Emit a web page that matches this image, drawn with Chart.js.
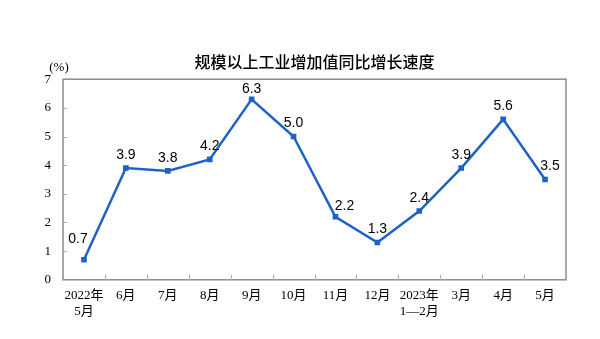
<!DOCTYPE html>
<html>
<head>
<meta charset="utf-8">
<script src="https://cdn.jsdelivr.net/npm/chart.js@4"></script>
<style>
  html, body { margin: 0; padding: 0; background: #fff; }
  #wrap { width: 600px; height: 339px; }
</style>
</head>
<body>
<div id="wrap"><canvas id="c"></canvas></div>
<script>
// 月份标签（两行的用数组）
const months = [
  ['2022年', '5月'], '6月', '7月', '8月', '9月', '10月',
  '11月', '12月', ['2023年', '1—2月'], '3月', '4月', '5月'
];
// 同比增长速度（%）
const growth = [0.7, 3.9, 3.8, 4.2, 6.3, 5.0, 2.2, 1.3, 2.4, 3.9, 5.6, 3.5];
const yTicks = [0, 1, 2, 3, 4, 5, 6, 7];

const lineColor = '#1f62c6';
const frameColor = '#8c8c8c';

// 画边框和朝内的刻度线
const frameTicks = {
  id: 'frameTicks',
  afterDraw(chart) {
    const { ctx, chartArea: a, scales } = chart;
    ctx.save();
    ctx.strokeStyle = frameColor;
    ctx.lineWidth = 1.5;
    ctx.strokeRect(a.left, a.top, a.right - a.left, a.bottom - a.top);
    ctx.lineWidth = 1;
    ctx.strokeStyle = '#b0b0b0';
    ctx.beginPath();
    for (let i = 1; i < months.length; i++) {
      const x = Math.round(scales.x.getPixelForValue(i - 0.5)) + 0.5;
      ctx.moveTo(x, a.bottom);
      ctx.lineTo(x, a.bottom - 5);
    }
    yTicks.forEach(v => {
      if (v === 0 || v === 7) return;
      const y = Math.round(scales.y.getPixelForValue(v)) + 0.5;
      ctx.moveTo(a.left, y);
      ctx.lineTo(a.left + 4, y);
    });
    ctx.stroke();
    // 单位
    ctx.fillStyle = '#000';
    ctx.font = '13px "Liberation Serif", serif';
    ctx.textAlign = 'center';
    ctx.textBaseline = 'middle';
    ctx.fillText('(%)', a.left - 4, a.top - 12);
    ctx.restore();
  }
};

// 数据标签，个别标签稍微错开，避免压线
const labelShift = { 0: [-6, -8], 4: [0, 3], 6: [9, 2], 11: [5, 0] };
const valueLabels = {
  id: 'valueLabels',
  afterDatasetsDraw(chart) {
    const { ctx } = chart;
    const meta = chart.getDatasetMeta(0);
    ctx.save();
    ctx.fillStyle = '#000';
    ctx.font = '14px "Liberation Sans", Arial, sans-serif';
    ctx.textAlign = 'center';
    ctx.textBaseline = 'bottom';
    meta.data.forEach((pt, i) => {
      const [dx, dy] = labelShift[i] || [0, 0];
      ctx.fillText(growth[i].toFixed(1), pt.x + dx, pt.y - 6 + dy);
    });
    ctx.restore();
  }
};

new Chart(document.getElementById('c'), {
  type: 'line',
  data: {
    labels: months,
    datasets: [{
      data: growth,
      borderColor: lineColor,
      backgroundColor: lineColor,
      borderWidth: 2.5,
      tension: 0,
      pointStyle: 'rect',
      pointRadius: 4,
      pointBorderWidth: 0,
      pointBackgroundColor: lineColor
    }]
  },
  options: {
    responsive: true,
    maintainAspectRatio: false,
    animation: false,
    layout: { padding: { left: 30, right: 34, top: 0, bottom: 20 } },
    scales: {
      x: {
        offset: true,
        grid: { display: false },
        border: { display: false },
        ticks: {
          color: '#000',
          font: { family: '"Liberation Serif", "Noto Sans CJK SC", serif', size: 13 },
          maxRotation: 0,
          autoSkip: false,
          padding: 0
        }
      },
      y: {
        min: 0,
        max: 7,
        grid: { display: false },
        border: { display: false },
        afterFit(scale) { scale.width = 33; },
        afterBuildTicks(scale) { scale.ticks = yTicks.map(v => ({ value: v })); },
        ticks: {
          color: '#000',
          font: { family: '"Liberation Serif", serif', size: 13 },
          padding: 4
        }
      }
    },
    plugins: {
      legend: { display: false },
      tooltip: { enabled: false },
      title: {
        display: true,
        fullSize: false,
        text: '规模以上工业增加值同比增长速度',
        color: '#000',
        font: { family: '"Noto Sans CJK SC", sans-serif', size: 16, weight: '500' },
        padding: { top: 52, bottom: 8 }
      }
    }
  },
  plugins: [frameTicks, valueLabels]
});
</script>
</body>
</html>
